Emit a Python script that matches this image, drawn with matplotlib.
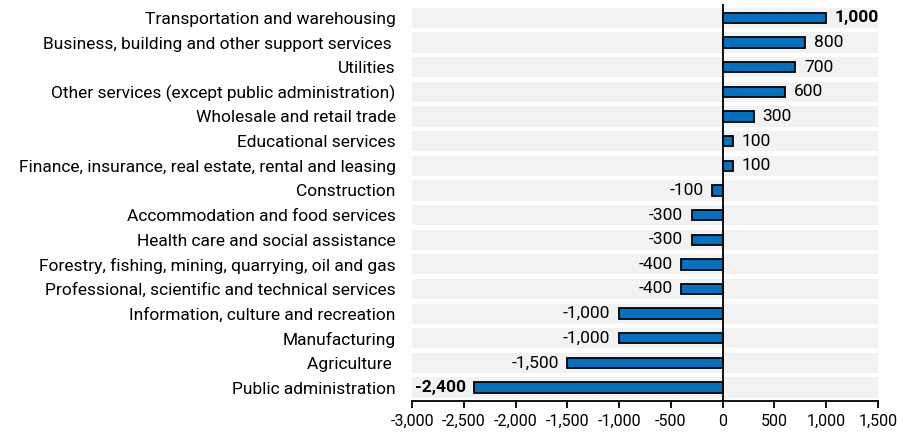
import matplotlib.pyplot as plt
import numpy as np

plt.rcParams['font.family'] = ['Roboto', 'DejaVu Sans']

# Dados
industries = [
    'Transportation and warehousing',
    'Business, building and other support services ',
    'Utilities',
    'Other services (except public administration)',
    'Wholesale and retail trade',
    'Educational services',
    'Finance, insurance, real estate, rental and leasing',
    'Construction',
    'Accommodation and food services',
    'Health care and social assistance',
    'Forestry, fishing, mining, quarrying, oil and gas',
    'Professional, scientific and technical services',
    'Information, culture and recreation',
    'Manufacturing',
    'Agriculture ',
    'Public administration',
]
change = [1000, 800, 700, 600, 300, 100, 100, -100, -300, -300, -400, -400,
          -1000, -1000, -1500, -2400]
xticks = [-3000, -2500, -2000, -1500, -1000, -500, 0, 500, 1000, 1500]

fig = plt.figure(figsize=(9.06, 4.36), dpi=100)
ax = fig.add_axes([0.455, 0.08, 0.514, 0.91])

y = np.arange(len(industries))[::-1]
xmin, xmax = -3000, 1500

# faixas cinzas
ax.barh(y, xmax - xmin, left=xmin, height=0.82, color='#f2f2f2', zorder=0)
ax.barh(y, change, height=0.42, color='#0070c0', edgecolor='black',
        linewidth=1.3, zorder=2)
ax.axvline(0, color='black', linewidth=1.3, zorder=3)

vmax, vmin = max(change), min(change)
for yi, v in zip(y, change):
    weight = 'bold' if v in (vmax, vmin) else 'normal'
    txt = f'{v:,}'
    if v >= 0:
        ax.text(v + 85, yi, txt, va='center', ha='left', fontsize=12.5,
                fontweight=weight)
    else:
        ax.text(v - 85, yi, txt, va='center', ha='right', fontsize=12.5,
                fontweight=weight)

ax.set_xlim(xmin, xmax)
ax.set_ylim(-0.55, len(industries) - 0.45)
ax.set_yticks(y)
ax.set_yticklabels(industries, fontsize=12.5)
ax.tick_params(axis='y', length=0, pad=12)
ax.set_xticks(xticks)
ax.set_xticklabels([f'{t:,}' for t in xticks], fontsize=11.5)
ax.tick_params(axis='x', length=5, width=1.3, pad=4)

for s in ['top', 'right', 'left']:
    ax.spines[s].set_visible(False)
ax.spines['bottom'].set_linewidth(1.3)

fig.savefig('out.png', dpi=100)
